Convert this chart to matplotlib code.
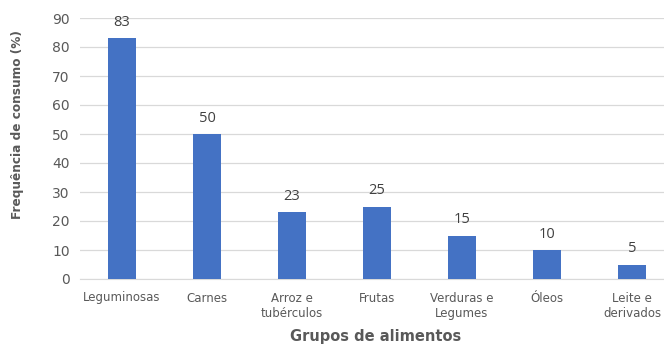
import matplotlib
matplotlib.use("Agg")
import matplotlib.pyplot as plt

categories = ["Leguminosas", "Carnes", "Arroz e\ntubérculos", "Frutas", "Verduras e\nLegumes", "Óleos", "Leite e\nderivados"]
values = [83, 50, 23, 25, 15, 10, 5]
yticks = [0, 10, 20, 30, 40, 50, 60, 70, 80, 90]

W, H = 664, 344
fig = plt.figure(figsize=(W/100, H/100), dpi=100)
left, right = 79.5, 664
top, bottom = 18, 279
ax = fig.add_axes([left/W, (H-bottom)/H, (right-left)/W, (bottom-top)/H])

txt = "#595959"
plt.rcParams['font.family'] = ['Open Sans', 'DejaVu Sans']
x = range(len(categories))
bars = ax.bar(x, values, width=0.32, color="#4472C4", zorder=3)
for xi, v in zip(x, values):
    ax.annotate(str(v), (xi, v), xytext=(0, 6), textcoords="offset points",
                ha="center", va="bottom", fontsize=10.5, color="#404040")

ax.set_xlim(-0.5, 6.5 - (674.5 - 664) / 85)
ax.set_ylim(0, 90)
ax.set_yticks(yticks)
ax.set_xticks(list(x))
ax.set_xticklabels(categories, fontsize=8.5, color=txt, linespacing=1.25)
ax.tick_params(axis='y', labelsize=10, colors=txt, length=0, pad=7)
ax.tick_params(axis='x', length=0, pad=9)
ax.grid(axis='y', color="#D9D9D9", linewidth=0.9, zorder=0)
for s in ["top", "right", "left"]:
    ax.spines[s].set_visible(False)
ax.spines["bottom"].set_color("#D9D9D9")
ax.set_ylabel("Frequência de consumo (%)", fontsize=8.7, color=txt, fontweight="bold", va="center", ha="center")
ax.yaxis.set_label_coords(-(79.5-18)/(right-left), (279-125)/(bottom-top))
ax.set_xlabel("Grupos de alimentos", fontsize=10.5, color=txt, fontweight="bold")
ax.xaxis.set_label_coords((376-79.5)/(right-left), -(336-279)/(bottom-top))
ax.xaxis.label.set_va("center")
fig.savefig("out.png", dpi=100)
